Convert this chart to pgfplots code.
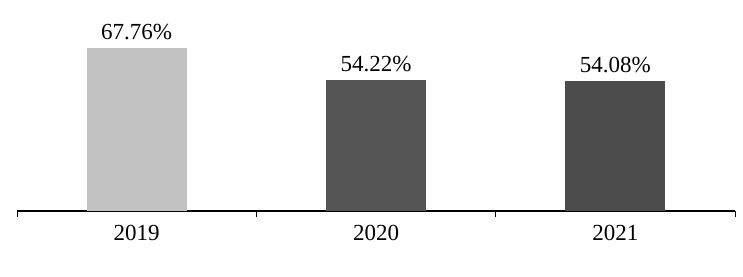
\documentclass[border=0pt]{standalone}
\usepackage{pgfplots}
\pgfplotsset{compat=1.18}
\usepackage{fontspec}
\setmainfont{Liberation Serif}
\definecolor{lightbar}{HTML}{C2C2C2}
\definecolor{darkbar}{HTML}{555555}
\definecolor{darkbarb}{HTML}{4C4C4C}
\begin{document}
\begin{tikzpicture}
\useasboundingbox (0,0) rectangle (743pt,276pt);
\begin{axis}[
  at={(17pt,65pt)}, anchor=south west,
  scale only axis, width=718pt, height=193pt,
  xmin=-0.5, xmax=2.5, ymin=0, ymax=80,
  axis x line*=bottom, hide y axis,
  axis line style={line width=1.2pt, -},
  xtick={0,1,2},
  xticklabels={\textrm{2019},\textrm{2020},\textrm{2021}},
  major tick length=0pt,
  extra x ticks={-0.5,0.5,1.5,2.5},
  extra x tick labels={},
  extra x tick style={major tick length=6pt, tick align=outside, tick style={line width=0.8pt, black}},
  xticklabel style={font=\fontsize{23}{27}\selectfont, yshift=-11pt},
  /pgf/number format/assume math mode=true,
  ybar, bar width=100pt, bar shift=0pt,
  nodes near coords,
  point meta=explicit symbolic,
  every node near coord/.append style={font=\fontsize{23}{27}\selectfont, inner sep=0pt, yshift=8pt, black},
  clip=false,
]
\addplot[fill=lightbar, draw=none] coordinates {(0,67.76) [67.76\%]};
\addplot[fill=darkbar, draw=none] coordinates {(1,54.22) [54.22\%]};
\addplot[fill=darkbarb, draw=none] coordinates {(2,54.08) [54.08\%]};
\end{axis}
\end{tikzpicture}
\end{document}
